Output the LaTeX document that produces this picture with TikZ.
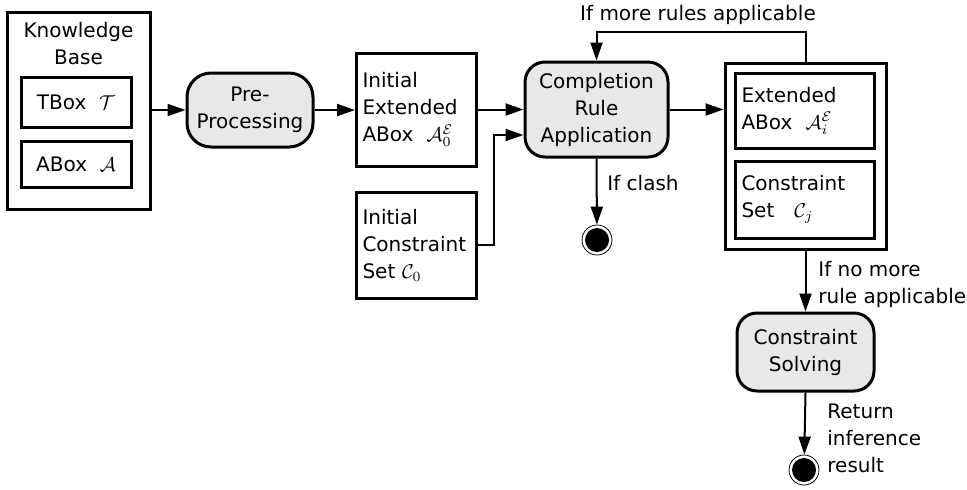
\documentclass[tikz,border=0pt]{standalone}
\usepackage{fontspec}
\setmainfont{DejaVu Sans}
\usetikzlibrary{arrows.meta}

\begin{document}
\begin{tikzpicture}[x=0.5pt,y=-0.5pt,>={Triangle[length=9pt,width=6pt]},
    every node/.style={font=\fontsize{10}{13.5}\selectfont},
    box/.style={draw,line width=1.5pt,inner sep=0pt},
    act node/.style={draw,line width=1.5pt,rounded corners=10pt,fill=gray!18,align=center,inner sep=0pt},
    end node/.style={circle,draw,thin,minimum size=15pt,inner sep=0pt,
      path picture={\fill (path picture bounding box.center) circle (6pt);}},
    flow/.style={->,line width=1pt}]

\useasboundingbox (0,0) rectangle (967,489);

% knowledge base
\node[box,minimum width=71.5pt,minimum height=98.5pt] (kb) at (78.5,110.5) {};
\node[align=center]  (kbtitle) at (78.5,44) {Knowledge\\Base};
\node[box,minimum width=55pt,minimum height=25pt]   (tbox) at (76,102)  {TBox\ \ $\mathcal{T}$};
\node[box,minimum width=55pt,minimum height=23pt]   (abox) at (76,164)  {ABox\ \ $\mathcal{A}$};

\node[act node,minimum width=63pt,minimum height=37pt,rounded corners=12pt] (pre) at (250,110) {Pre-\\Processing};

\node[box,minimum width=59.5pt,minimum height=56.5pt,align=left,text width=54pt,inner sep=3pt] (iext) at (416.5,109.5)
    {Initial\\Extended\\ABox\ \ $\mathcal{A}_0^{\mathcal{E}}$};
\node[box,minimum width=59.5pt,minimum height=53pt,align=left,text width=54pt,inner sep=3pt] (icon) at (416.5,245)
    {Initial\\Constraint\\Set\ $\mathcal{C}_0$};

\node[act node,minimum width=71.5pt,minimum height=47.5pt] (cra) at (596.5,109.5) {Completion\\Rule\\Application};

% result of completion
\node[box,minimum width=80.5pt,minimum height=93pt] (res) at (805.5,156) {};
\node[box,minimum width=69.5pt,minimum height=37.5pt,align=left,text width=63pt,inner sep=3pt] (eab) at (804.5,110.5)
    {Extended\\ABox\ \ $\mathcal{A}_i^{\mathcal{E}}$};
\node[box,minimum width=69.5pt,minimum height=38.5pt,align=left,text width=63pt,inner sep=3pt] (cset) at (804.5,199.5)
    {Constraint\\Set\quad $\mathcal{C}_j$};

\node[act node,minimum width=68.5pt,minimum height=39pt] (cs) at (805.5,352) {Constraint\\Solving};

\node[end node] (clash) at (597,240) {};
\node[end node] (ret)   at (804,470) {};

\coordinate (bend) at (494,135);
\coordinate (loop) at (596.5,32);

\draw[flow] (kb.east |- pre.west) -- (pre.west);
\draw[flow] (pre.east) -- (iext.west |- pre.east);
\draw[flow] (iext.east) -- (cra.west);
\draw[flow] (icon.east) -| (bend) -- (bend -| cra.west);
\draw[flow] (cra.east) -- (cra.east -| res.west);
\draw[flow] (res.north) |- (loop) -- (cra.north);
\draw[flow] (cra.south) -- (clash);
\draw[flow] (res.south) -- (cs.north);
\draw[flow] (cs.south) -- (ret);

\node (more)  at (698,15) {If more rules applicable};
\node[anchor=west,inner sep=0pt] (iclash) at (607,183) {If clash};
\node[anchor=west,align=left,inner sep=0pt] (nomore) at (818,284) {If no more\\rule applicable};
\node[anchor=west,align=left,inner sep=0pt] (retres) at (827,438) {Return\\inference\\result};

\end{tikzpicture}
\end{document}
